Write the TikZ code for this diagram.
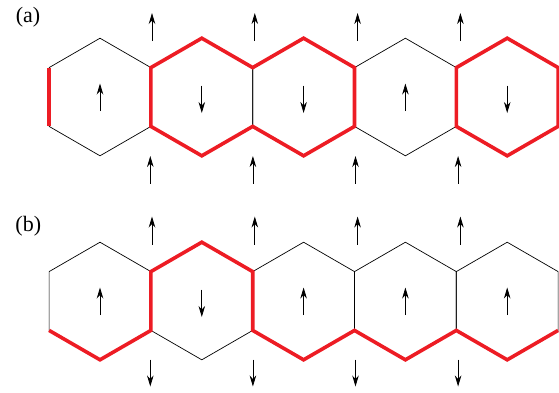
\documentclass[tikz,border=0pt]{standalone}
\usepackage{fontspec}
\setmainfont{Liberation Serif}
\usetikzlibrary{arrows.meta}
\definecolor{wallred}{RGB}{237,28,36}
\begin{document}
\begin{tikzpicture}[x=1pt, y=-1pt,
  cell/.style={draw=black, line width=0.7pt, line join=miter},
  wall/.style={draw=wallred, line width=3.6pt, line join=miter},
  spin/.style={line width=0.8pt, -{Stealth[length=11pt, width=6.5pt, inset=3.5pt]}},
  panel/.style={font=\fontsize{22}{22}\selectfont, inner sep=0pt}]
  \useasboundingbox (0,0) rectangle (559,392);

  % hexagon vertices: t, ur, lr, b, ll, ul for each cell of both rows
  \foreach \r/\cy in {a/97, b/301} {
    \foreach \i in {1,...,5} {
      \pgfmathsetmacro\cx{100+101.8*(\i-1)}
      \coordinate (\r\i-t)  at (\cx, \cy-58.8);
      \coordinate (\r\i-ur) at (\cx+50.9, \cy-29.4);
      \coordinate (\r\i-lr) at (\cx+50.9, \cy+29.4);
      \coordinate (\r\i-b)  at (\cx, \cy+58.8);
      \coordinate (\r\i-ll) at (\cx-50.9, \cy+29.4);
      \coordinate (\r\i-ul) at (\cx-50.9, \cy-29.4);
      \coordinate (\r\i-c)  at (\cx, \cy);
      \draw[cell] (\r\i-t) -- (\r\i-ur) -- (\r\i-lr) -- (\r\i-b) -- (\r\i-ll) -- (\r\i-ul) -- cycle;
    }
  }

  % domain walls, row (a)
  \draw[wall] (a1-ul) -- (a1-ll);
  \draw[wall] (a2-ll) -- (a2-ul) -- (a2-t) -- (a2-ur) -- (a3-t) -- (a3-ur)
              -- (a3-lr) -- (a3-b) -- (a3-ll) -- (a2-b) -- cycle;
  \draw[wall] (a5-t) -- (a5-ur) -- (a5-lr) -- (a5-b) -- (a5-ll) -- (a5-ul) -- cycle;

  % domain walls, row (b)
  \draw[wall] (b1-ll) -- (b1-b) -- (b1-lr) -- (b2-ul) -- (b2-t) -- (b2-ur)
              -- (b2-lr) -- (b3-b) -- (b3-lr) -- (b4-b) -- (b4-lr) -- (b5-b) -- (b5-lr);

  % spins inside the cells (yshift is measured upwards on the page)
  \foreach \r/\i/\d in {a/1/u, a/2/d, a/3/d, a/4/u, a/5/d,
                        b/1/u, b/2/d, b/3/u, b/4/u, b/5/u} {
    \if\d u
      \coordinate (\r\i-s0) at ([yshift=-14pt]\r\i-c);
      \coordinate (\r\i-s1) at ([yshift=13.5pt]\r\i-c);
    \else
      \coordinate (\r\i-s0) at ([yshift=11.5pt]\r\i-c);
      \coordinate (\r\i-s1) at ([yshift=-16pt]\r\i-c);
    \fi
    \draw[spin] (\r\i-s0) -- (\r\i-s1);
  }

  % spins on the links above and below each row
  \foreach \k in {1,...,4} {
    \pgfmathsetmacro\xt{152+102.8*(\k-1)}
    \pgfmathsetmacro\xb{150.3+102.6*(\k-1)}
    \coordinate (at\k-s) at (\xt, 41);
    \coordinate (at\k-e) at (\xt, 13);
    \coordinate (ab\k-s) at (\xb, 183.5);
    \coordinate (ab\k-e) at (\xb, 156);
    \coordinate (bt\k-s) at (\xt, 244.5);
    \coordinate (bt\k-e) at (\xt, 216.5);
    \coordinate (bb\k-s) at (\xb, 359.5);
    \coordinate (bb\k-e) at (\xb, 386.5);
    \draw[spin] (at\k-s) -- (at\k-e);
    \draw[spin] (ab\k-s) -- (ab\k-e);
    \draw[spin] (bt\k-s) -- (bt\k-e);
    \draw[spin] (bb\k-s) -- (bb\k-e);
  }

  \node[panel] (lbla) at (28,17.5) {(a)};
  \node[panel] (lblb) at (28.3,226) {(b)};
\end{tikzpicture}
\end{document}
